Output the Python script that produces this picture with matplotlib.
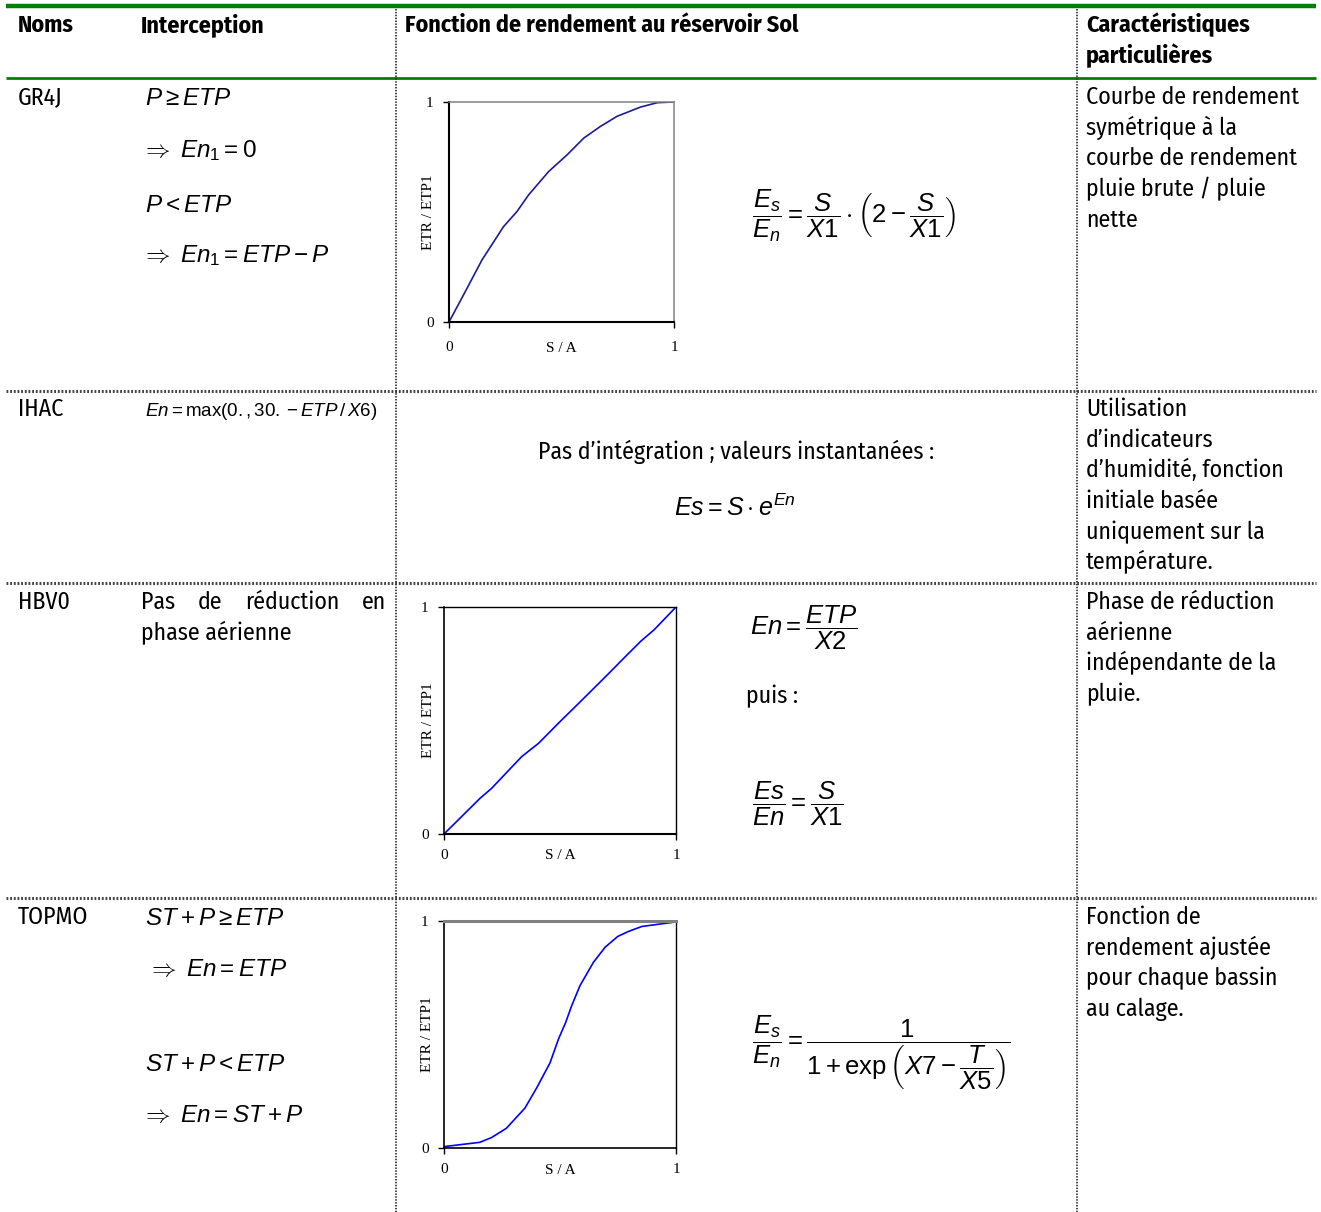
import matplotlib
matplotlib.use('Agg')
import matplotlib.pyplot as plt
from matplotlib import font_manager

names = {f.name for f in font_manager.fontManager.ttflist}
NARROW = 'Liberation Sans'
for cand in ['Liberation Sans Narrow', 'Arial Narrow', 'Fira Sans Condensed', 'Barlow Semi Condensed']:
    if cand in names:
        NARROW = cand
        break
SERIF = 'Liberation Serif'
MATHFONT = 'Liberation Sans'

plt.rcParams['mathtext.fontset'] = 'custom'
plt.rcParams['mathtext.rm'] = MATHFONT
plt.rcParams['mathtext.it'] = MATHFONT + ':italic'
plt.rcParams['mathtext.bf'] = MATHFONT + ':bold'
plt.rcParams['mathtext.sf'] = MATHFONT

# ---- data ----
gr4j_s = [0, 0.064, 0.146, 0.242, 0.302, 0.354, 0.443, 0.525, 0.599, 0.673, 0.747, 0.851, 0.926, 1.0]
gr4j_etr = [0, 0.122, 0.281, 0.433, 0.502, 0.578, 0.684, 0.760, 0.836, 0.889, 0.935, 0.977, 0.997, 1.0]

hbv0_s = [0, 0.155, 0.205, 0.335, 0.408, 0.501, 0.559, 0.639, 0.704, 0.790, 0.848, 0.906, 1.0]
hbv0_etr = [0, 0.157, 0.201, 0.341, 0.400, 0.496, 0.554, 0.635, 0.701, 0.790, 0.849, 0.900, 1.0]

topmo_s = [0, 0.154, 0.205, 0.269, 0.349, 0.399, 0.457, 0.493, 0.524, 0.550, 0.586, 0.644,
           0.695, 0.749, 0.795, 0.853, 1.0]
topmo_etr = [0.006, 0.025, 0.046, 0.087, 0.176, 0.264, 0.375, 0.479, 0.552, 0.626, 0.715, 0.818,
             0.885, 0.932, 0.954, 0.976, 0.996]

axis_ticks = [0, 1]
tick_labels = ['0', '1']
x_label = 'S / A'
y_label = 'ETR / ETP1'

headers = ['Noms', 'Interception', 'Fonction de rendement au réservoir Sol',
           'Caractéristiques\nparticulières']
model_names = ['GR4J', 'IHAC', 'HBV0', 'TOPMO']

gr4j_interception = [r'$P \geq ETP$', r'$\Rightarrow\ En_1 = 0$',
                     r'$P < ETP$', r'$\Rightarrow\ En_1 = ETP - P$']
ihac_interception = r'$En = \max(0.,30.-ETP\,/\,X6)$'
hbv0_interception = ['Pas de réduction en', 'phase aérienne']
topmo_interception = [r'$ST + P \geq ETP$', r'$\Rightarrow\ En = ETP$',
                      r'$ST + P < ETP$', r'$\Rightarrow\ En = ST + P$']

gr4j_formula = r'$\dfrac{E_s}{E_n} = \dfrac{S}{X1}\cdot\left(2 - \dfrac{S}{X1}\right)$'
ihac_text = 'Pas d’intégration ; valeurs instantanées :'
ihac_formula = r'$Es = S\cdot e^{En}$'
hbv0_formula1 = r'$En = \dfrac{ETP}{X2}$'
hbv0_then = 'puis :'
hbv0_formula2 = r'$\dfrac{Es}{En} = \dfrac{S}{X1}$'
topmo_formula = r'$\dfrac{E_s}{E_n} = \dfrac{1}{1+\exp\left(X7 - \dfrac{T}{X5}\right)}$'

notes = [
    ['Courbe de rendement', 'symétrique à la', 'courbe de rendement', 'pluie brute / pluie', 'nette'],
    ['Utilisation', 'd’indicateurs', 'd’humidité, fonction', 'initiale basée',
     'uniquement sur la', 'température.'],
    ['Phase de réduction', 'aérienne', 'indépendante de la', 'pluie.'],
    ['Fonction de', 'rendement ajustée', 'pour chaque bassin', 'au calage.'],
]

W, H = 1321, 1212
fig = plt.figure(figsize=(W / 100, H / 100), dpi=100)
bg = fig.add_axes([0, 0, 1, 1])
bg.set_xlim(0, W)
bg.set_ylim(H, 0)
bg.axis('off')
renderer = fig.canvas.get_renderer()

# size the body font so "Courbe de rendement" is as wide as in the picture
probe = bg.text(0, 0, notes[0][0], fontsize=19, family=NARROW)
FS = min(19.0, 19.0 * 213 / probe.get_window_extent(renderer).width)
probe.remove()
GREEN = '#008000'


def txt(x, y, s, size=None, ha='left', va='baseline', weight='normal'):
    return bg.text(x, y, s, fontsize=size or FS, family=NARROW, ha=ha, va=va, weight=weight)


# table rules
bg.plot([6, 1316], [6, 6], color=GREEN, lw=3.2, solid_capstyle='butt')
bg.plot([6, 1316], [77.5, 77.5], color=GREEN, lw=2, solid_capstyle='butt')
row_y = [391, 583, 898]
for y in row_y:
    bg.plot([6, 1316], [y, y], color='#444444', lw=2.2, linestyle=(0, (0.6, 0.6)))
for x in [396, 1077]:
    bg.plot([x, x], [9, H], color='#333333', lw=1.3, linestyle=(0, (0.8, 0.8)))

# header
txt(18, 32, headers[0], weight='bold')
txt(141, 32, headers[1], weight='bold')
txt(405, 32, headers[2], weight='bold')
for i, line in enumerate(headers[3].split('\n')):
    txt(1086, 32 + 31 * i, line, weight='bold')

# model names
name_y = [104, 416, 609, 924]
for name, y in zip(model_names, name_y):
    txt(18, y, name)

# notes column
for lines, y0 in zip(notes, name_y):
    for i, line in enumerate(lines):
        txt(1086, y0 + 30.7 * i, line)

# interception column
MI = 17.5
for s, x, y in zip(gr4j_interception, [145, 141, 145, 141], [105, 157, 212, 262]):
    txt(x, y, s, size=MI)
txt(145, 416, ihac_interception, size=13.5)
for s, x, y in zip(topmo_interception, [145, 147, 145, 141], [925, 976, 1071, 1122]):
    txt(x, y, s, size=MI)

# justified first line "Pas de réduction en"
words = hbv0_interception[0].split()
objs = [txt(0, 609, w) for w in words]
widths = [o.get_window_extent(renderer).width for o in objs]
gap = (386 - 141 - sum(widths)) / (len(words) - 1)
xpos = 141
for o, w in zip(objs, widths):
    o.set_x(xpos)
    xpos += w + gap
txt(141, 640, hbv0_interception[1])

# formulas column
MF = 18.5
txt(752, 216, gr4j_formula, size=MF, va='center')
txt(736, 459, ihac_text, ha='center')
txt(735, 516, ihac_formula, size=18, ha='center')
txt(750, 628, hbv0_formula1, size=MF, va='center')
txt(746, 703, hbv0_then)
txt(752, 804, hbv0_formula2, size=MF, va='center')
txt(752, 1053, topmo_formula, size=MF, va='center')


# mini charts
def mini_chart(px_box, xs, ys, color, spine_style, ylab_x, xlab_y, xpad):
    x0, y0, x1, y1 = px_box
    ax = fig.add_axes([x0 / W, 1 - y1 / H, (x1 - x0) / W, (y1 - y0) / H])
    ax.plot(xs, ys, color=color, lw=1.2)
    ax.set_xlim(0, 1)
    ax.set_ylim(0, 1)
    ax.set_xticks(axis_ticks)
    ax.set_yticks(axis_ticks)
    ax.set_xticklabels(tick_labels, family=SERIF, fontsize=11)
    ax.set_yticklabels(tick_labels, family=SERIF, fontsize=11)
    ax.tick_params(axis='x', direction='out', length=4, width=1, pad=xpad)
    ax.tick_params(axis='y', direction='out', length=4, width=1, pad=7)
    ax.set_xlabel(x_label, family=SERIF, fontsize=11)
    ax.set_ylabel(y_label, family=SERIF, fontsize=11)
    ax.xaxis.set_label_coords(0.5, xlab_y)
    ax.yaxis.set_label_coords(ylab_x, 0.5)
    for side, (col, lw) in spine_style.items():
        ax.spines[side].set_color(col)
        ax.spines[side].set_linewidth(lw)
    ax.patch.set_alpha(0)
    return ax


mini_chart((449, 102, 674, 322), gr4j_s, gr4j_etr, '#1c1c94',
           {'left': ('black', 1.5), 'bottom': ('black', 1.5),
            'top': ('#808080', 1.1), 'right': ('#808080', 1.1)}, -0.06, -0.09, 10)
mini_chart((444, 607, 676, 834), hbv0_s, hbv0_etr, '#0000ff',
           {'left': ('black', 1.2), 'bottom': ('black', 1.5),
            'top': ('black', 1.0), 'right': ('black', 1.0)}, -0.04, -0.066, 7)
mini_chart((444, 921, 676, 1148), topmo_s, topmo_etr, '#0000ff',
           {'left': ('black', 1.2), 'bottom': ('black', 1.2),
            'top': ('#808080', 2.2), 'right': ('black', 1.0)}, -0.042, -0.07, 7)

fig.savefig('out.png', dpi=100)
